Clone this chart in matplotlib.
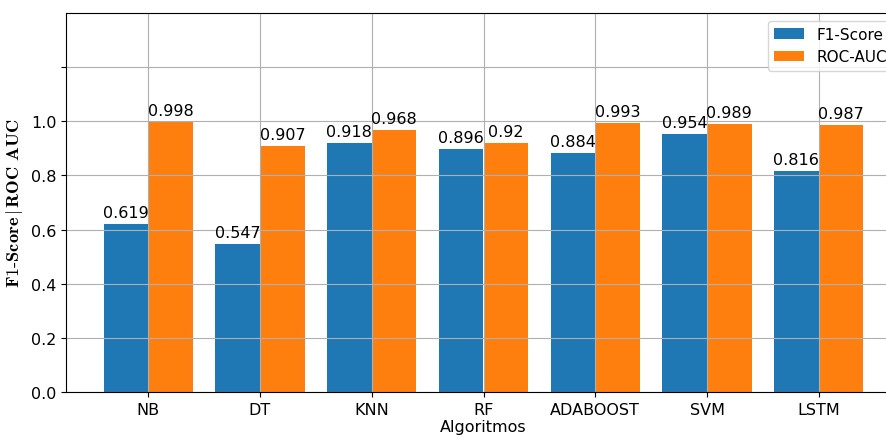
import matplotlib
matplotlib.use("Agg")
import matplotlib.pyplot as plt
import numpy as np

# data
algoritmos = ["NB", "DT", "KNN", "RF", "ADABOOST", "SVM", "LSTM"]
f1_score = [0.619, 0.547, 0.918, 0.896, 0.884, 0.954, 0.816]
roc_auc = [0.998, 0.907, 0.968, 0.92, 0.993, 0.989, 0.987]
yticks = [0.0, 0.2, 0.4, 0.6, 0.8, 1.0, 1.2]
ytick_labels = ["0.0", "0.2", "0.4", "0.6", "0.8", "1.0", ""]

plt.rcParams["font.size"] = 11.5
plt.rcParams["mathtext.fontset"] = "cm"

fig = plt.figure(figsize=(8.87, 4.39), dpi=100)
# the original image is cropped on the right, so the axes runs past the edge
ax = fig.add_axes([66/887, 46/439, 835/887, 379/439])

x = np.arange(len(algoritmos))
w = 0.4
b1 = ax.bar(x - w/2, f1_score, w, label="F1-Score")
b2 = ax.bar(x + w/2, roc_auc, w, label="ROC-AUC")
ax.bar_label(b1, labels=[str(v) for v in f1_score], padding=3)
ax.bar_label(b2, labels=[str(v) for v in roc_auc], padding=3)

ax.set_xticks(x)
ax.set_xticklabels(algoritmos)
ax.set_yticks(yticks)
ax.set_yticklabels(ytick_labels)
ax.set_ylim(0, 1.4)
ax.set_xlim(-0.736, 6.736)
ax.grid(True)

ax.set_xlabel("Algoritmos", labelpad=2)
ax.set_ylabel(r"$\mathbf{F1\text{-}Score}\,|\,\mathbf{ROC\ AUC}$", fontsize=13.2)
ax.legend(loc="upper right", fontsize=11)

fig.savefig("out.png", dpi=100)
